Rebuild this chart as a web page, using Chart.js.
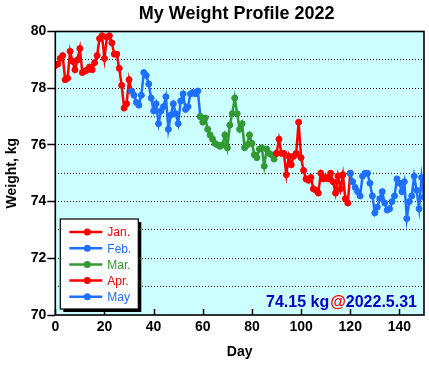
<!DOCTYPE html>
<html><head><meta charset="utf-8">
<script src="https://cdn.jsdelivr.net/npm/chart.js@4.4.0/dist/chart.umd.min.js"></script>
<style>html,body{margin:0;padding:0;background:#fff;}#wrap{width:429px;height:365px;}</style>
</head><body><div id="wrap"><canvas id="c" width="429" height="365"></canvas></div>
<script>
const chartTitle = 'My Weight Profile 2022';
const monthLabels = ['Jan.', 'Feb.', 'Mar.', 'Apr.', 'May'];
const monthStartDays = [0, 31, 59, 90, 120];
const monthColors = ['#ff0000', '#1f6fff', '#339933', '#ff0000', '#1f6fff'];
const jan = [78.8, 78.85, 79.05, 79.15, 78.3, 78.35, 79.3, 78.95, 78.65, 79.0, 79.4, 78.55, 78.6, 78.65, 78.75, 78.65, 78.9, 79.15, 79.75, 79.85, 79.05, 79.8, 79.85, 79.6, 79.2, 79.2, 78.7, 78.1, 77.3, 77.45, 78.3];
const feb = [77.9, 77.75, 77.5, 77.4, 77.75, 78.55, 78.45, 78.15, 77.65, 77.2, 77.45, 76.75, 77.2, 77.35, 77.7, 76.55, 77.05, 77.45, 77.1, 76.75, 77.55, 77.8, 77.25, 77.35, 77.8, 77.85, 77.8, 77.9];
const mar = [77.0, 76.8, 76.95, 76.55, 76.35, 76.2, 76.05, 76.0, 75.95, 76.0, 76.35, 75.9, 76.7, 77.1, 77.65, 77.1, 76.55, 76.75, 75.9, 76.0, 76.35, 76.05, 75.65, 75.55, 75.85, 75.9, 75.25, 75.85, 75.7, 75.65, 75.5];
const apr = [75.7, 76.2, 75.7, 75.7, 74.95, 75.6, 75.3, 75.6, 75.7, 76.8, 75.55, 75.1, 74.8, 74.75, 74.85, 74.45, 74.4, 74.3, 75.0, 74.8, 74.85, 74.8, 75.0, 74.7, 74.3, 74.9, 74.45, 74.95, 74.1, 73.95];
const may = [75.0, 74.7, 74.5, 74.35, 74.2, 74.9, 75.0, 75.0, 74.65, 74.2, 73.6, 73.8, 74.1, 74.35, 73.95, 73.7, 73.75, 74.0, 74.2, 74.8, 74.65, 74.35, 74.7, 73.4, 74.0, 74.2, 74.9, 74.4, 73.75, 74.85, 74.15];
const xTicks = [0, 20, 40, 60, 80, 100, 120, 140];
const yTicks = [70, 71, 72, 73, 74, 75, 76, 77, 78, 79, 80];
const lastDate = '2022.5.31';

const FONT = '"Liberation Sans", Arial, Helvetica, sans-serif';
Chart.defaults.font.family = FONT;

const months = [jan, feb, mar, apr, may];
const datasets = months.map((vals, m) => {
  const pts = vals.map((v, i) => ({x: monthStartDays[m] + i, y: v}));
  if (m + 1 < months.length) pts.push({x: monthStartDays[m + 1], y: months[m + 1][0]});
  return {
    label: monthLabels[m], data: pts,
    borderColor: monthColors[m], backgroundColor: monthColors[m],
    pointBackgroundColor: monthColors[m], pointBorderColor: monthColors[m],
    borderWidth: 2.5, pointRadius: 3, pointBorderWidth: 1, tension: 0,
    order: months.length - m
  };
});
const lastVal = may[may.length - 1];

const deco = {
  id: 'deco',
  beforeDraw(chart) {
    const {ctx, chartArea: a} = chart;
    ctx.save();
    ctx.fillStyle = '#ccffff';
    ctx.fillRect(a.left, a.top, a.right - a.left, a.bottom - a.top);
    ctx.restore();
  },
  afterDatasetsDraw(chart) {
    const {ctx, chartArea: a} = chart;
    const xs = chart.scales.x;
    ctx.save();
    ctx.strokeStyle = '#000';
    ctx.lineWidth = 1.5;
    xTicks.forEach(v => {
      const px = Math.round(xs.getPixelForValue(v)) + 0.5;
      ctx.beginPath(); ctx.moveTo(px, a.bottom); ctx.lineTo(px, a.bottom - 6); ctx.stroke();
    });
    ctx.lineWidth = 1.6;
    ctx.strokeRect(a.left, a.top, a.right - a.left, a.bottom - a.top);
    ctx.restore();
  },
  afterDraw(chart) {
    const {ctx, chartArea: a} = chart;
    ctx.save();
    ctx.fillStyle = '#000';
    ctx.font = 'bold 18px ' + FONT;
    ctx.textAlign = 'center';
    ctx.textBaseline = 'alphabetic';
    ctx.fillText(chartTitle, (a.left + a.right) / 2 - 3, 18.5);
    const lx = a.left + 5, lw = 78, lh = 90, ly = a.bottom - 6 - lh;
    ctx.fillStyle = '#000';
    ctx.fillRect(lx + 3, ly + 3, lw, lh);
    ctx.fillStyle = '#fff';
    ctx.fillRect(lx, ly, lw, lh);
    ctx.strokeStyle = '#000'; ctx.lineWidth = 1.2;
    ctx.strokeRect(lx, ly, lw, lh);
    ctx.font = '12px ' + FONT;
    ctx.textAlign = 'left'; ctx.textBaseline = 'middle';
    chart.data.datasets.forEach((ds, i) => {
      const cy = ly + 13 + i * 16.2;
      ctx.strokeStyle = ds.borderColor; ctx.lineWidth = 2.5;
      ctx.beginPath(); ctx.moveTo(lx + 9, cy); ctx.lineTo(lx + 42, cy); ctx.stroke();
      ctx.fillStyle = ds.borderColor;
      ctx.beginPath(); ctx.arc(lx + 27, cy, 3.5, 0, Math.PI * 2); ctx.fill();
      ctx.fillText(ds.label, lx + 47, cy + 1);
    });
    ctx.font = 'bold 16px ' + FONT;
    ctx.textBaseline = 'alphabetic'; ctx.textAlign = 'left';
    const p1 = lastVal.toFixed(2) + ' kg', p2 = '@', p3 = lastDate;
    const w1 = ctx.measureText(p1).width, w2 = ctx.measureText(p2).width, w3 = ctx.measureText(p3).width;
    let x = a.right - 7 - (w1 + w2 + w3 + 1);
    const by = a.bottom - 8.5;
    ctx.fillStyle = '#0000cc'; ctx.fillText(p1, x, by); x += w1 + 1;
    ctx.fillStyle = '#ff0000'; ctx.fillText(p2, x, by); x += w2;
    ctx.fillStyle = '#0000cc'; ctx.fillText(p3, x, by);
    ctx.restore();
  }
};

new Chart(document.getElementById('c'), {
  type: 'line',
  data: {datasets},
  options: {
    responsive: false, animation: false, devicePixelRatio: 1,
    layout: {padding: {top: 31.5, right: 5, left: 0, bottom: 0}},
    plugins: {legend: {display: false}, title: {display: false}, tooltip: {enabled: false}},
    scales: {
      x: {
        type: 'linear', min: 0, max: 150,
        afterBuildTicks: s => { s.ticks = xTicks.map(v => ({value: v})); },
        ticks: {color: '#000', font: {size: 14, weight: 'bold'}, padding: 4, maxRotation: 0, autoSkip: false},
        grid: {display: false, drawTicks: false},
        border: {display: false},
        title: {display: true, text: 'Day', color: '#000', font: {size: 14, weight: 'bold'}, padding: {top: 0, bottom: 4}},
        afterFit: s => { s.height = 50; }
      },
      y: {
        min: 70, max: 80,
        afterBuildTicks: s => { s.ticks = yTicks.map(v => ({value: v})); },
        ticks: {color: '#000', font: {size: 14, weight: 'bold'}, padding: 1, autoSkip: false,
          callback: v => (v % 2 === 0 ? String(v) : '')},
        grid: {
          color: c => (c.tick && (c.tick.value === 70 || c.tick.value === 80)) ? 'rgba(0,0,0,0)' : '#000',
          lineWidth: 1, tickLength: 8, tickWidth: 1.5,
          tickColor: c => (c.tick && c.tick.value % 2 === 0) ? '#000' : 'rgba(0,0,0,0)'
        },
        border: {display: false, dash: [1, 2]},
        title: {display: true, text: 'Weight, kg', color: '#000', font: {size: 14, weight: 'bold'}, padding: {top: 4, bottom: 0}},
        afterFit: s => { s.width = 55.3; }
      }
    }
  },
  plugins: [deco]
});
</script></body></html>
